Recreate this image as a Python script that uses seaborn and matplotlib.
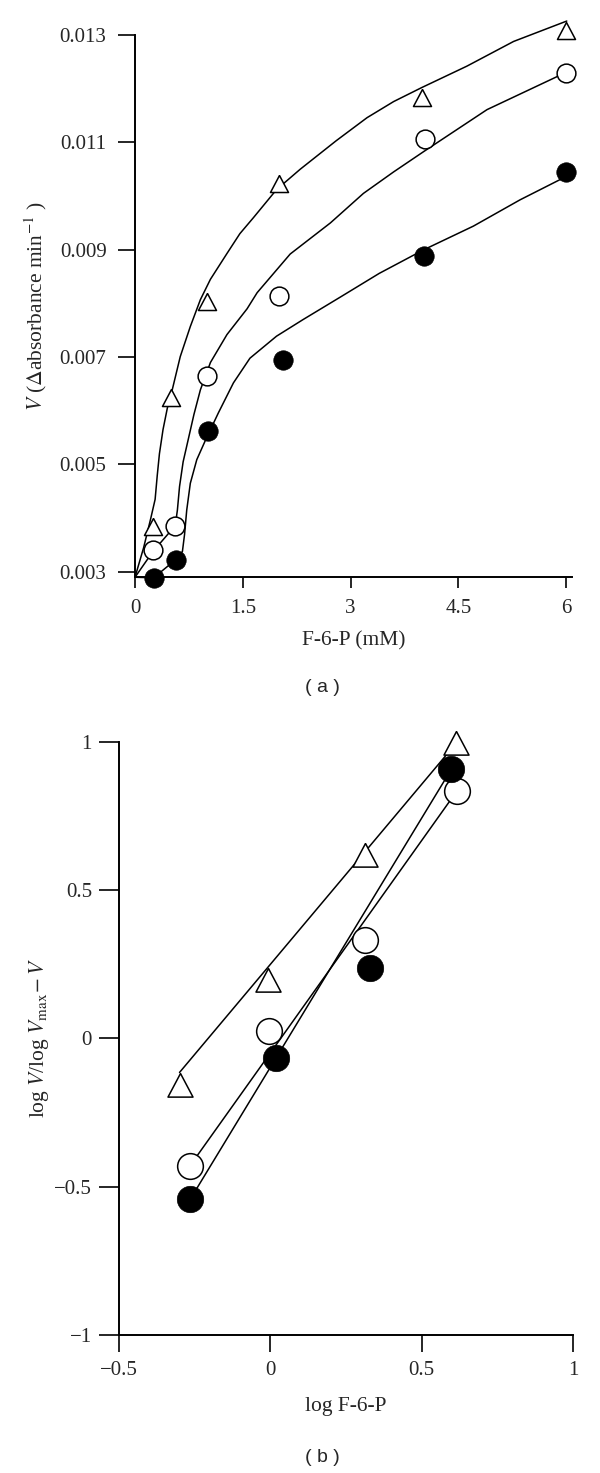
import numpy as np
import matplotlib
matplotlib.use("Agg")
import matplotlib.pyplot as plt
import seaborn as sns
from matplotlib.markers import MarkerStyle

# ---- panel (a): velocity vs F-6-P, points ----
a_x = [0.25, 0.5, 1.0, 2.0, 4.0, 6.0]
a_tri = [0.0040, 0.0064, 0.0082, 0.0104, 0.0120, 0.01325]
a_open_x = [0.25, 0.56, 1.0, 2.0, 4.03, 6.0]
a_open = [0.0034, 0.00386, 0.00665, 0.00813, 0.01107, 0.0123]
a_fill_x = [0.26, 0.57, 1.02, 2.06, 4.02, 6.0]
a_fill = [0.00289, 0.00322, 0.00562, 0.00694, 0.00889, 0.01045]

# hand drawn curves in panel (a)
tri_cx = [0.0, 0.12, 0.22, 0.28, 0.31, 0.34, 0.39, 0.45, 0.52, 0.63, 0.77, 0.91,
          1.05, 1.28, 1.46, 1.65, 1.97, 2.30, 2.80, 3.23, 3.60, 3.99, 4.62, 5.27,
          6.01]
tri_cy = [0.0029, 0.00345, 0.00400, 0.00435, 0.00480, 0.00520, 0.00565, 0.00605,
          0.00640, 0.00701, 0.00757, 0.00807, 0.00845, 0.00893, 0.00930, 0.00960,
          0.01012, 0.01050, 0.01103, 0.01146, 0.01176, 0.01202, 0.01242, 0.01288,
          0.01326]
open_cx = [0.0, 0.25, 0.56, 0.59, 0.62, 0.67, 0.74, 0.82, 0.91, 1.05, 1.28, 1.56,
           1.70, 2.16, 2.72, 3.18, 3.60, 4.02, 4.90, 6.01]
open_cy = [0.0029, 0.00338, 0.00386, 0.00415, 0.00459, 0.00505, 0.00546, 0.00593,
           0.00639, 0.00690, 0.00742, 0.00790, 0.00820, 0.00892, 0.00950, 0.01005,
           0.01045, 0.01083, 0.01161, 0.01231]
fill_cx = [0.0, 0.26, 0.56, 0.66, 0.69, 0.72, 0.77, 0.86, 0.98, 1.16, 1.37, 1.60,
           1.97, 2.34, 2.86, 3.40, 4.02, 4.71, 5.36, 6.01]
fill_cy = [0.0029, 0.00289, 0.00322, 0.00338, 0.00370, 0.00415, 0.00465, 0.00509,
           0.00545, 0.00596, 0.00652, 0.00698, 0.00739, 0.00770, 0.00812, 0.00856,
           0.00900, 0.00944, 0.00993, 0.01037]

a_xticks = [0, 1.5, 3, 4.5, 6]
a_xticklabels = ["0", "1.5", "3", "4.5", "6"]
a_yticks = [0.003, 0.005, 0.007, 0.009, 0.011, 0.013]
a_yticklabels = ["0.003", "0.005", "0.007", "0.009", "0.011", "0.013"]

# ---- panel (b): Hill plot ----
b_tri_x = [-0.30, -0.007, 0.313, 0.613]
b_tri_y = [-0.117, 0.236, 0.657, 1.037]
b_open_x = [-0.265, -0.004, 0.313, 0.616]
b_open_y = [-0.429, 0.025, 0.331, 0.833]
b_fill_x = [-0.265, 0.019, 0.33, 0.598]
b_fill_y = [-0.543, -0.065, 0.236, 0.907]

# fitted straight lines (end points)
b_tri_fit_x = [-0.30, 0.61]
b_tri_fit_y = [-0.115, 0.99]
b_open_fit_x = [-0.265, 0.616]
b_open_fit_y = [-0.429, 0.833]
b_fill_fit_x = [-0.265, 0.598]
b_fill_fit_y = [-0.543, 0.907]

b_xticks = [-0.5, 0, 0.5, 1]
b_xticklabels = ["\u22120.5", "0", "0.5", "1"]
b_yticks = [-1, -0.5, 0, 0.5, 1]
b_yticklabels = ["\u22121", "\u22120.5", "0", "0.5", "1"]

sns.set_style("ticks")
plt.rcParams["font.family"] = ["Liberation Serif", "DejaVu Serif"]
plt.rcParams["mathtext.fontset"] = "stix"

# triangle with its apex on the data point
tri_marker = MarkerStyle([(0, 0), (-0.53, -1), (0.53, -1), (0, 0)])

fs_tick = 15
fs_label = 15.5

fig = plt.figure(figsize=(6, 14.73), dpi=100)
ax1 = fig.add_axes([0.225, 1 - 576.7 / 1473, 0.728, (576.7 - 35) / 1473])
ax2 = fig.add_axes([0.1983, 1 - 1335 / 1473, 0.7567, (1335 - 741.7) / 1473])

lw = 1.1
# panel (a)
for cx, cy in [(tri_cx, tri_cy), (open_cx, open_cy), (fill_cx, fill_cy)]:
    sns.lineplot(x=cx, y=cy, ax=ax1, sort=False, color="black", lw=lw,
                 estimator=None, clip_on=False, zorder=2)
sns.scatterplot(x=a_x, y=a_tri, ax=ax1, marker=tri_marker, s=24.5 ** 2,
                facecolor="white", edgecolor="black", linewidth=1.1,
                clip_on=False, zorder=3)
sns.scatterplot(x=a_open_x, y=a_open, ax=ax1, marker="o", s=13.5 ** 2,
                facecolor="white", edgecolor="black", linewidth=1.1,
                clip_on=False, zorder=3)
sns.scatterplot(x=a_fill_x, y=a_fill, ax=ax1, marker="o", s=14 ** 2,
                facecolor="black", edgecolor="black", linewidth=0.5,
                clip_on=False, zorder=3)

ax1.set_xlim(0, 6.08)
ax1.set_ylim(0.00291, 0.013)
ax1.set_xticks(a_xticks)
ax1.set_xticklabels(a_xticklabels)
ax1.set_yticks(a_yticks)
ax1.set_yticklabels(a_yticklabels)
ax1.tick_params(axis="y", length=12.5, width=1.4, pad=8, labelsize=fs_tick)
ax1.tick_params(axis="x", length=7.7, width=1.4, pad=8, labelsize=fs_tick)
ax1.set_xlabel("F-6-P (mM)", fontsize=fs_label, labelpad=10)
ax1.set_ylabel(r"$V$ ($\Delta$absorbance min$^{-1}$ )", fontsize=fs_label, labelpad=8)

# panel (b)
for fx, fy in [(b_tri_fit_x, b_tri_fit_y), (b_open_fit_x, b_open_fit_y),
               (b_fill_fit_x, b_fill_fit_y)]:
    sns.lineplot(x=fx, y=fy, ax=ax2, sort=False, color="black", lw=lw,
                 estimator=None, clip_on=False, zorder=2)
sns.scatterplot(x=b_tri_x, y=b_tri_y, ax=ax2, marker=tri_marker, s=34 ** 2,
                facecolor="white", edgecolor="black", linewidth=1.1,
                clip_on=False, zorder=3)
sns.scatterplot(x=b_open_x, y=b_open_y, ax=ax2, marker="o", s=18.5 ** 2,
                facecolor="white", edgecolor="black", linewidth=1.1,
                clip_on=False, zorder=3)
sns.scatterplot(x=b_fill_x, y=b_fill_y, ax=ax2, marker="o", s=19 ** 2,
                facecolor="black", edgecolor="black", linewidth=0.5,
                clip_on=False, zorder=4)

ax2.set_xlim(-0.5, 1.0)
ax2.set_ylim(-1, 1)
ax2.set_xticks(b_xticks)
ax2.set_xticklabels(b_xticklabels)
ax2.set_yticks(b_yticks)
ax2.set_yticklabels(b_yticklabels)
ax2.tick_params(axis="y", length=14.4, width=1.4, pad=5, labelsize=fs_tick)
ax2.tick_params(axis="x", length=12, width=1.4, pad=7, labelsize=fs_tick)
ax2.set_xlabel("log F-6-P", fontsize=fs_label, labelpad=12)
ax2.set_ylabel(r"log $V$/log $V_{\mathrm{max}}\!-V$", fontsize=fs_label, labelpad=2)

for ax in (ax1, ax2):
    sns.despine(ax=ax)
    for side in ("left", "bottom"):
        ax.spines[side].set_linewidth(1.4)
        ax.spines[side].set_color("black")
    ax.set_facecolor("white")

fig.text(322 / 600, 1 - 688 / 1473, "( a )", ha="center", va="center",
         fontsize=14, family=["Liberation Sans", "DejaVu Sans"])
fig.text(322 / 600, 1 - 1458 / 1473, "( b )", ha="center", va="center",
         fontsize=14, family=["Liberation Sans", "DejaVu Sans"])

fig.savefig("out.png", dpi=100, facecolor="white")
